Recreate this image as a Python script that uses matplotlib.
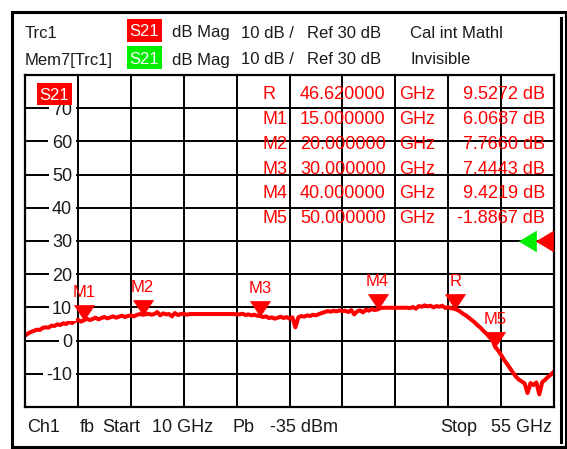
import numpy as np
import matplotlib
matplotlib.use('Agg')
import matplotlib.pyplot as plt
from matplotlib.patches import Rectangle
from matplotlib.path import Path
from matplotlib.lines import Line2D
from matplotlib.transforms import offset_copy, blended_transform_factory

plt.rcParams['font.family'] = ['Liberation Sans', 'DejaVu Sans']

# sweep
start_ghz, stop_ghz = 10, 55
ref_db = 30
y_min, y_max = -20, 80

# S21 trace, one value every 0.25 GHz from 10 to 55 GHz
trace_db = [
    1.5, 2.1, 2.6, 2.9, 3.3, 3.2, 3.8, 4.0, 3.9, 4.5, 4.4, 4.9, 4.7, 5.2, 5.0, 5.6, 5.3, 5.9, 6.3, 5.7, 6.1,
    6.6, 6.2, 6.5, 6.9, 6.4, 6.8, 7.1, 6.7, 7.0, 7.3, 6.9, 7.2, 7.5, 7.1, 7.4, 7.6, 7.3, 7.7, 8.0, 7.8,
    7.9, 8.1, 7.8, 8.0, 8.6, 7.6, 8.2, 7.9, 8.0, 7.3, 8.3, 7.7, 8.0, 8.1, 7.8, 8.0,
    8.0, 8.0, 8.0, 8.0, 8.0, 8.0, 8.0, 8.0, 8.0, 8.0, 8.0, 8.0, 8.0, 8.0, 8.0, 7.9,
    7.9, 8.1, 7.7, 7.9, 7.6, 7.8, 7.5, 7.4,
    7.1, 7.3, 6.8, 7.0, 6.6, 6.9, 7.2, 6.8, 7.1, 6.6, 7.0, 4.0,
    7.0, 7.4, 7.2, 7.6, 7.4, 7.8, 7.6, 8.0,
    8.3, 8.6, 8.9, 8.7, 9.0, 8.8, 9.1, 8.9,
    9.0, 8.6, 9.2, 7.9, 8.8, 9.1, 8.5, 9.3, 9.0, 9.5, 9.2, 9.4,
    9.8, 9.9, 9.9, 9.9, 9.9, 9.9, 9.9, 9.9, 9.9, 9.9, 9.8,
    10.1, 9.6, 10.4, 10.2, 10.6, 10.3, 10.5, 10.0, 10.4, 10.2, 10.5, 9.8, 10.1, 9.7, 9.6,
    9.3, 8.8, 8.1, 7.6, 6.9, 6.2, 5.5, 4.6, 3.9, 2.9, 2.1, 1.1, 0.2, -1.9,
    -3.0, -4.3, -5.8, -7.0, -8.3, -9.6, -10.8, -11.7, -12.3, -12.9, -15.8, -12.8, -13.4, -12.6, -16.2,
    -12.5, -11.8, -10.9, -10.2, -9.3,
]
trace_ghz = np.linspace(start_ghz, stop_ghz, len(trace_db))

# markers (table order)
marker_names = ['R', 'M1', 'M2', 'M3', 'M4', 'M5']
marker_ghz = [46.62, 15.0, 20.0, 30.0, 40.0, 50.0]
marker_db = [9.5272, 6.0687, 7.7660, 7.4443, 9.4219, -1.8867]

y_labels = [70, 60, 50, 40, 30, 20, 10, 0, -10]

W, H = 567, 449
RED = '#ff0000'
GREEN = '#00ee00'
INK = '#1a1a1a'


def fx(px):
    return px / W


def fy(py):
    return 1 - py / H


fig = plt.figure(figsize=(W / 100, H / 100), dpi=100)


def ftext(px, base, s, size=12, color=INK, ha='left'):
    fig.text(fx(px), fy(base), s, fontsize=size, color=color, ha=ha, va='baseline')


def fbox(x0, y0, x1, y1, s, fc):
    fig.add_artist(Rectangle((fx(x0), fy(y1)), (x1 - x0) / W, (y1 - y0) / H,
                             transform=fig.transFigure, fc=fc, ec='none', zorder=5))
    fig.text(fx((x0 + x1) / 2), fy((y0 + y1) / 2 + 6), s, fontsize=12, color='white',
             ha='center', va='baseline', zorder=6)


# outer frame
fig.add_artist(Rectangle((fx(11.5), fy(447)), (566 - 11.5) / W, (447 - 11.5) / H,
                         transform=fig.transFigure, fill=False, ec='black', lw=2.2))
fig.add_artist(Line2D([fx(560.5), fx(560.5)], [fy(18), fy(442)],
                      transform=fig.transFigure, color='black', lw=2.2))

# header
ftext(25, 37.5, 'Trc1')
fbox(127, 19, 162, 42, 'S21', RED)
ftext(25, 64.5, 'Mem7[Trc1]')
fbox(127, 46, 162, 69, 'S21', GREEN)
for base in (37.5, 64.5):
    ftext(172, base, 'dB Mag')
    ftext(241, base, '10 dB /')
    ftext(307, base, 'Ref 30 dB')
ftext(410, 37.5, 'Cal int Mathl')
ftext(410, 64.5, 'Invisible')

# footer
for px, s in [(27, 'Ch1'), (80, 'fb'), (102, 'Start'), (152, '10 GHz'), (232, 'Pb'),
              (270, '-35 dBm'), (440, 'Stop'), (491, '55 GHz')]:
    ftext(px, 432, s, size=13)

# diagram
ax = fig.add_axes([fx(25), fy(407), (554 - 25) / W, (407 - 75) / H])
ax.set_xlim(start_ghz, stop_ghz)
ax.set_ylim(y_min, y_max)
ax.set_xticks(np.linspace(start_ghz, stop_ghz, 11))
ax.set_yticks(np.arange(y_min, y_max + 1, 10))
ax.tick_params(length=0, labelbottom=False, labelleft=False)
ax.grid(True, color='black', lw=1.4)
for sp in ax.spines.values():
    sp.set_linewidth(1.6)

ylab_tr = offset_copy(blended_transform_factory(ax.transAxes, ax.transData),
                      fig=fig, y=-0.358 * 13, units='points')
for v in y_labels:
    ax.text(0.089, v, str(v), transform=ylab_tr, ha='right', va='baseline', fontsize=13,
            color=INK, zorder=3, bbox=dict(fc='white', ec='none', pad=2.5))

fbox(37, 83, 72, 105, 'S21', RED)

ax.plot(trace_ghz, trace_db, color=RED, lw=2.9, zorder=2.5)

tri_down = Path([(0, 0), (-0.667, 1), (0.667, 1), (0, 0)],
                [Path.MOVETO, Path.LINETO, Path.LINETO, Path.CLOSEPOLY])
ax.plot(marker_ghz, marker_db, ls='none', marker=tri_down, ms=21.6,
        color=RED, mew=0.5, zorder=4)
for name, g, d in zip(marker_names, marker_ghz, marker_db):
    ax.annotate(name, (g, d), xytext=(0, 16.6), textcoords='offset points',
                ha='center', va='baseline', color=RED, fontsize=12, zorder=4)

# reference level indicators
tri_left = Path([(0, 0), (1, 0.6), (1, -0.6), (0, 0)],
                [Path.MOVETO, Path.LINETO, Path.LINETO, Path.CLOSEPOLY])
ref_tr = blended_transform_factory(ax.transAxes, ax.transData)
ax.plot([0.934], [ref_db], marker=tri_left, ms=24.5, color=GREEN, mew=0.5,
        transform=ref_tr, clip_on=False, zorder=4)
ax.plot([0.966], [ref_db], marker=tri_left, ms=24.5, color=RED, mew=0.5,
        transform=ref_tr, clip_on=False, zorder=4)

# marker table
for i, (name, g, d) in enumerate(zip(marker_names, marker_ghz, marker_db)):
    base = 99.3 + 24.8 * i
    ftext(262, base, name, size=13, color=RED)
    ftext(300, base, f'{g:.6f}', size=13, color=RED)
    ftext(399, base, 'GHz', size=13, color=RED)
    ftext(545, base, f'{d:.4f} dB', size=13, color=RED, ha='right')

fig.savefig('out.png', dpi=100)
